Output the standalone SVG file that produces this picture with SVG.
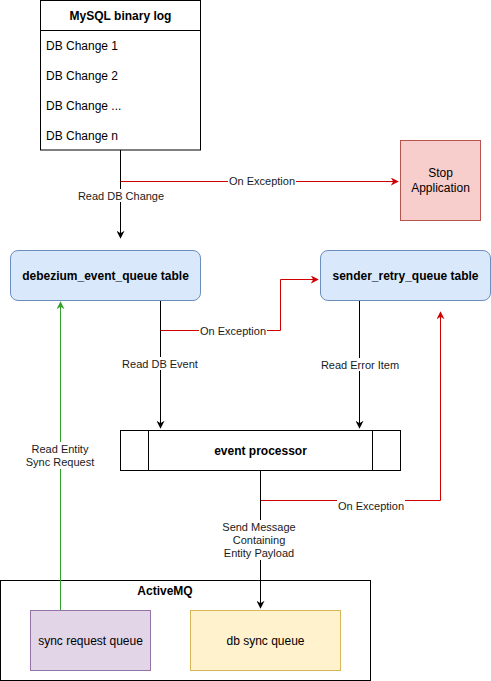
<svg xmlns="http://www.w3.org/2000/svg" width="491" height="681" viewBox="0 0 491 681">
<style>
text{font-family:"Liberation Sans",Arial,sans-serif;fill:#000}
.t12{font-size:12px}
.b{font-weight:bold}
.lbl{font-size:11px;fill:#1a1a1a}
.edge{fill:none;stroke:#000;stroke-width:1}
.red{fill:none;stroke:#d00000;stroke-width:1}
.green{fill:none;stroke:#33a02c;stroke-width:1}
.bg{fill:#fff}
</style>
<defs>
<marker id="ab" viewBox="0 0 10 10" refX="9" refY="5" markerWidth="8" markerHeight="8" markerUnits="userSpaceOnUse" orient="auto"><path d="M0,0 L10,5 L0,10 L3,5 Z" fill="#000"/></marker>
<marker id="ar" viewBox="0 0 10 10" refX="9" refY="5" markerWidth="8" markerHeight="8" markerUnits="userSpaceOnUse" orient="auto"><path d="M0,0 L10,5 L0,10 L3,5 Z" fill="#d00000"/></marker>
<marker id="ag" viewBox="0 0 10 10" refX="9" refY="5" markerWidth="8" markerHeight="8" markerUnits="userSpaceOnUse" orient="auto"><path d="M0,0 L10,5 L0,10 L3,5 Z" fill="#33a02c"/></marker>
</defs>
<rect width="491" height="681" fill="#fff"/>

<g id="activemq">
<rect x="0.5" y="580.5" width="370" height="100" fill="#fff" stroke="#000"/>
<text x="165" y="595" text-anchor="middle" class="t12 b">ActiveMQ</text>
</g>

<g id="connectors">
<path class="edge" d="M120.5,150 V238" marker-end="url(#ab)"/>
<path class="red" d="M120.5,181.5 H398" marker-end="url(#ar)"/>
<path class="edge" d="M160.5,300 V428" marker-end="url(#ab)"/>
<path class="red" d="M160.5,330.5 H280.5 V279.5 H318" marker-end="url(#ar)"/>
<path class="edge" d="M359.5,300 V428" marker-end="url(#ab)"/>
<path class="red" d="M260.5,500.5 H440.5 V312" marker-end="url(#ar)"/>
<path class="edge" d="M260.5,470 V608" marker-end="url(#ab)"/>
<path class="green" d="M60.5,610 V302" marker-end="url(#ag)"/>
<rect class="bg" x="228" y="175" width="68" height="13"/>
<text x="262" y="185" text-anchor="middle" class="lbl">On Exception</text>
<rect class="bg" x="79" y="189" width="84" height="13"/>
<text x="121" y="200" text-anchor="middle" class="lbl">Read DB Change</text>
<rect class="bg" x="199" y="324" width="68" height="13"/>
<text x="233" y="335" text-anchor="middle" class="lbl">On Exception</text>
<rect class="bg" x="122" y="357" width="76" height="13"/>
<text x="160" y="368" text-anchor="middle" class="lbl">Read DB Event</text>
<rect class="bg" x="320" y="358" width="80" height="13"/>
<text x="360" y="369" text-anchor="middle" class="lbl">Read Error Item</text>
<rect class="bg" x="337" y="499" width="68" height="13"/>
<text x="371" y="510" text-anchor="middle" class="lbl">On Exception</text>
<rect class="bg" x="221" y="520" width="76" height="40"/>
<text x="259" y="531" text-anchor="middle" class="lbl">Send Message</text>
<text x="259" y="544" text-anchor="middle" class="lbl">Containing</text>
<text x="259" y="557" text-anchor="middle" class="lbl">Entity Payload</text>
<rect class="bg" x="24" y="442" width="72" height="27"/>
<text x="60" y="453" text-anchor="middle" class="lbl">Read Entity</text>
<text x="60" y="466" text-anchor="middle" class="lbl">Sync Request</text>
</g>

<g id="mysql">
<rect x="40.5" y="0.5" width="160" height="149.5" fill="#fff" stroke="#000"/>
<line x1="40.5" y1="30.5" x2="200.5" y2="30.5" stroke="#000"/>
<text x="120.5" y="20" text-anchor="middle" class="t12 b">MySQL binary log</text>
<text x="46" y="50" class="t12">DB Change 1</text>
<text x="46" y="80" class="t12">DB Change 2</text>
<text x="46" y="110" class="t12">DB Change ...</text>
<text x="46" y="140" class="t12">DB Change n</text>
</g>

<g id="stop">
<rect x="400.5" y="140.5" width="80" height="80" fill="#f8cecc" stroke="#b85450"/>
<text x="440.5" y="177" text-anchor="middle" class="t12">Stop</text>
<text x="440.5" y="192" text-anchor="middle" class="t12">Application</text>
</g>

<g id="debezium">
<rect x="10.5" y="250.5" width="190" height="50" rx="7.5" fill="#dae8fc" stroke="#6c8ebf"/>
<text x="105.5" y="279.5" text-anchor="middle" class="t12 b">debezium_event_queue table</text>
</g>

<g id="sender">
<rect x="320.5" y="250.5" width="170" height="50" rx="7.5" fill="#dae8fc" stroke="#6c8ebf"/>
<text x="405.5" y="279.5" text-anchor="middle" class="t12 b">sender_retry_queue table</text>
</g>

<g id="processor">
<rect x="120.5" y="430.5" width="280" height="40" fill="#fff" stroke="#000"/>
<line x1="148.5" y1="430.5" x2="148.5" y2="470.5" stroke="#000"/>
<line x1="372.5" y1="430.5" x2="372.5" y2="470.5" stroke="#000"/>
<text x="260.5" y="454.5" text-anchor="middle" class="t12 b">event processor</text>
</g>

<g id="syncreq">
<rect x="30.5" y="610.5" width="120" height="60" fill="#e1d5e7" stroke="#9673a6"/>
<text x="90.5" y="644.5" text-anchor="middle" class="t12">sync request queue</text>
</g>

<g id="dbsync">
<rect x="190.5" y="610.5" width="150" height="60" fill="#fff2cc" stroke="#d6b656"/>
<text x="265.5" y="644.5" text-anchor="middle" class="t12">db sync queue</text>
</g>
</svg>
